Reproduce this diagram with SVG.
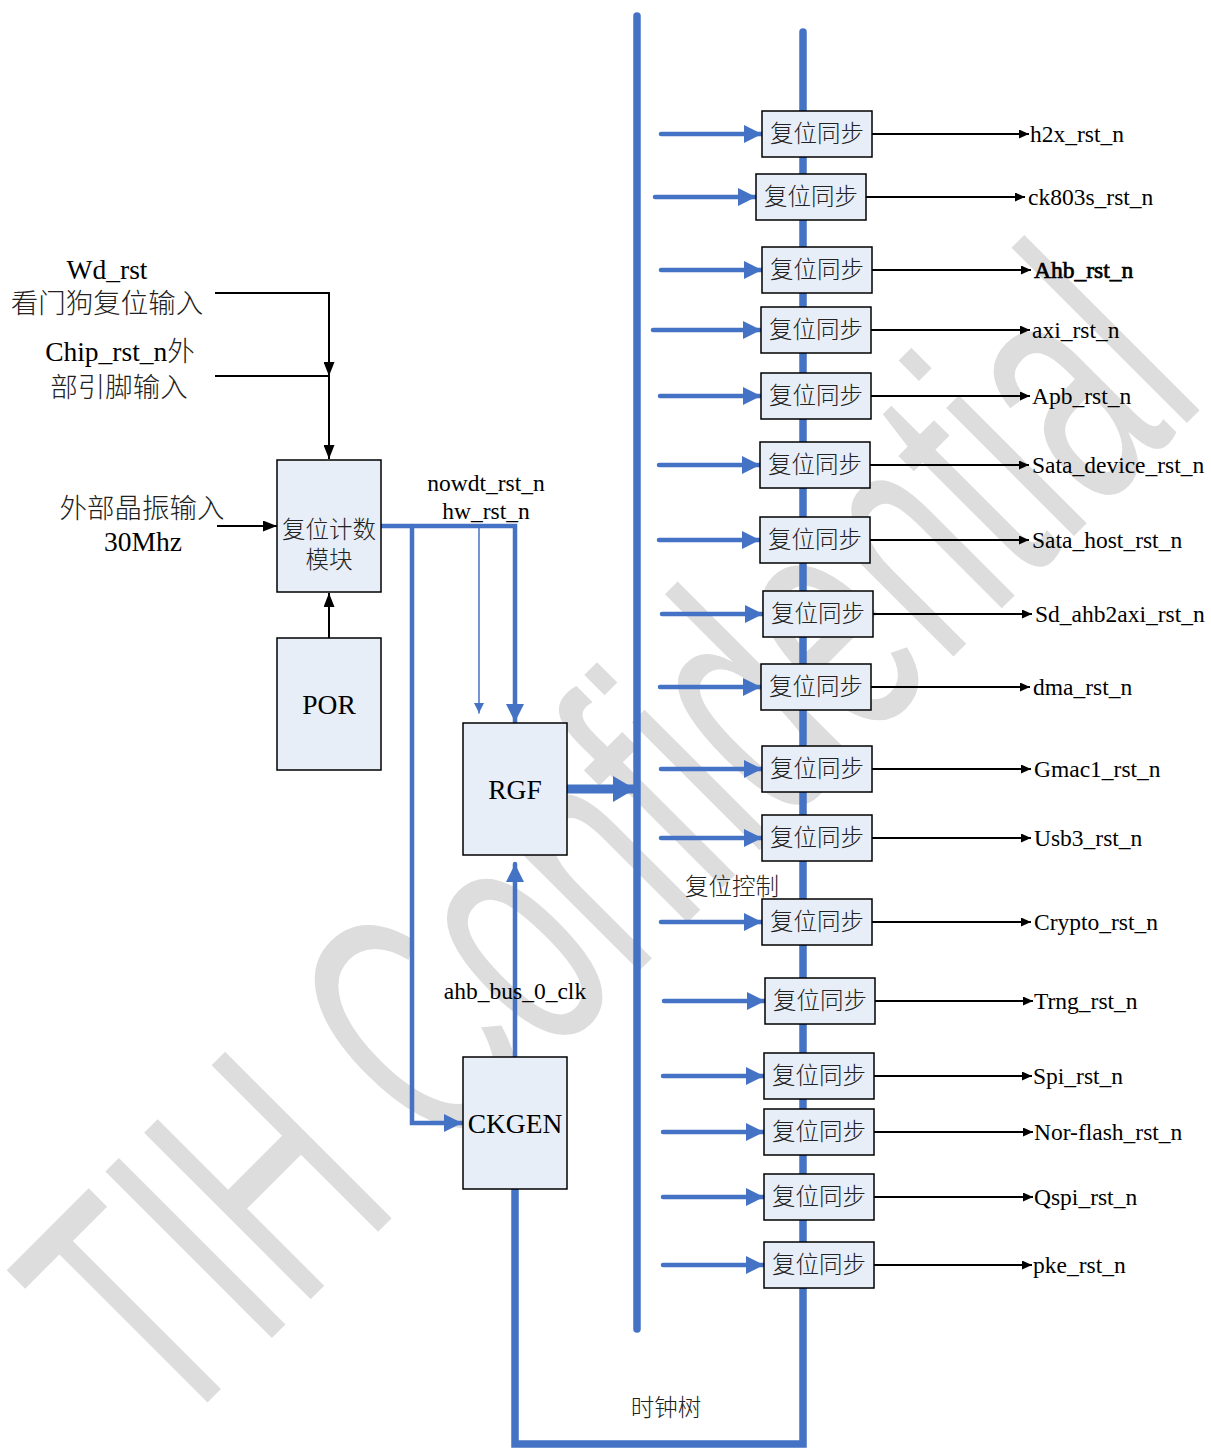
<svg xmlns="http://www.w3.org/2000/svg" width="1211" height="1448" viewBox="0 0 1211 1448">
<defs>
<style>
.t{font-family:"Liberation Serif","Noto Sans CJK SC",serif;fill:#000}
.s{font-size:23.5px}
.l{font-size:27.5px}
.c{text-anchor:middle}
.cj{fill:#222;font-weight:300}
.box{fill:#E7EEF8;stroke:#000;stroke-width:1.5}
.bl{fill:none;stroke:#4472C4;stroke-linecap:round}
.bk{fill:none;stroke:#000;stroke-width:2}
.wm{font-family:"Liberation Sans",Arial,sans-serif;font-size:205px;fill:#DDDDDD}
</style>
<marker id="ba" markerUnits="userSpaceOnUse" markerWidth="18" markerHeight="18" viewBox="0 0 18 18" refX="18" refY="9" orient="auto"><path d="M0,0L18,9L0,18z" fill="#4472C4"/></marker>
<marker id="bs" markerUnits="userSpaceOnUse" markerWidth="10" markerHeight="10" viewBox="0 0 10 10" refX="10" refY="5" orient="auto"><path d="M0,0L10,5L0,10z" fill="#4472C4"/></marker>
<marker id="bb" markerUnits="userSpaceOnUse" markerWidth="22" markerHeight="26" viewBox="0 0 22 26" refX="22" refY="13" orient="auto"><path d="M0,0L22,13L0,26z" fill="#4472C4"/></marker>
<marker id="ka" markerUnits="userSpaceOnUse" markerWidth="10" markerHeight="9" viewBox="0 0 10 9" refX="10" refY="4.5" orient="auto"><path d="M0,0L10,4.5L0,9z" fill="#000"/></marker>
<marker id="kb" markerUnits="userSpaceOnUse" markerWidth="14" markerHeight="11" viewBox="0 0 14 11" refX="14" refY="5.5" orient="auto"><path d="M0,0L14,5.5L0,11z" fill="#000"/></marker>
</defs>
<rect width="1211" height="1448" fill="#fff"/>
<text class="wm" transform="translate(170,1440) rotate(-45) scale(1,1.67)">TIH Confidential</text>

<g id="connectors">
<path class="bl" stroke-width="7.5" d="M637,16V1329"/>
<path class="bl" stroke-width="7.5" stroke-linejoin="miter" d="M803,32V1444H515V1190"/>
<path class="bk" d="M215,293H329V376" marker-end="url(#kb)"/>
<path class="bk" d="M215,376H329V459" marker-end="url(#kb)"/>
<path class="bk" d="M217,526H277" marker-end="url(#kb)"/>
<path class="bk" d="M329,638V593" marker-end="url(#kb)"/>
<path class="bl" stroke-width="4.5" d="M381,526H515V722" marker-end="url(#ba)"/>
<path class="bl" stroke-width="1.5" stroke-linecap="butt" d="M479,526V713" marker-end="url(#bs)"/>
<path class="bl" stroke-width="4.5" stroke-linejoin="miter" d="M412,526V1123H462" marker-end="url(#ba)"/>
<path class="bl" stroke-width="4.5" stroke-linecap="butt" d="M515,1057V864" marker-end="url(#ba)"/>
<path class="bl" stroke-width="9" d="M567,789H635" marker-end="url(#bb)"/>
<path class="bl" stroke-width="4.5" d="M661,134H762" marker-end="url(#ba)"/>
<path class="bl" stroke-width="4.5" d="M655,197H756" marker-end="url(#ba)"/>
<path class="bl" stroke-width="4.5" d="M661,270H762" marker-end="url(#ba)"/>
<path class="bl" stroke-width="4.5" d="M653,330H761" marker-end="url(#ba)"/>
<path class="bl" stroke-width="4.5" d="M660,396H761" marker-end="url(#ba)"/>
<path class="bl" stroke-width="4.5" d="M659,465H760" marker-end="url(#ba)"/>
<path class="bl" stroke-width="4.5" d="M659,540H760" marker-end="url(#ba)"/>
<path class="bl" stroke-width="4.5" d="M662,614H763" marker-end="url(#ba)"/>
<path class="bl" stroke-width="4.5" d="M660,687H761" marker-end="url(#ba)"/>
<path class="bl" stroke-width="4.5" d="M661,769H762" marker-end="url(#ba)"/>
<path class="bl" stroke-width="4.5" d="M661,838H762" marker-end="url(#ba)"/>
<path class="bl" stroke-width="4.5" d="M661,922H762" marker-end="url(#ba)"/>
<path class="bl" stroke-width="4.5" d="M664,1001H765" marker-end="url(#ba)"/>
<path class="bl" stroke-width="4.5" d="M663,1076H764" marker-end="url(#ba)"/>
<path class="bl" stroke-width="4.5" d="M663,1132H764" marker-end="url(#ba)"/>
<path class="bl" stroke-width="4.5" d="M663,1197H764" marker-end="url(#ba)"/>
<path class="bl" stroke-width="4.5" d="M663,1265H764" marker-end="url(#ba)"/>
<path class="bk" d="M872,134H1029" marker-end="url(#ka)"/>
<path class="bk" d="M866,197H1025" marker-end="url(#ka)"/>
<path class="bk" d="M872,270H1031" marker-end="url(#ka)"/>
<path class="bk" d="M871,330H1030" marker-end="url(#ka)"/>
<path class="bk" d="M871,396H1030" marker-end="url(#ka)"/>
<path class="bk" d="M870,465H1029" marker-end="url(#ka)"/>
<path class="bk" d="M870,540H1029" marker-end="url(#ka)"/>
<path class="bk" d="M873,614H1032" marker-end="url(#ka)"/>
<path class="bk" d="M871,687H1030" marker-end="url(#ka)"/>
<path class="bk" d="M872,769H1031" marker-end="url(#ka)"/>
<path class="bk" d="M872,838H1031" marker-end="url(#ka)"/>
<path class="bk" d="M872,922H1031" marker-end="url(#ka)"/>
<path class="bk" d="M875,1001H1033" marker-end="url(#ka)"/>
<path class="bk" d="M874,1076H1032" marker-end="url(#ka)"/>
<path class="bk" d="M874,1132H1033" marker-end="url(#ka)"/>
<path class="bk" d="M874,1197H1033" marker-end="url(#ka)"/>
<path class="bk" d="M874,1265H1032" marker-end="url(#ka)"/>
</g>

<g id="labels">
<text class="t l c" x="107" y="279">Wd_rst</text>
<text class="t l c cj" x="107" y="313">看门狗复位输入</text>
<text class="t l c" x="120" y="361">Chip_rst_n<tspan class="cj">外</tspan></text>
<text class="t l c cj" x="119" y="397">部引脚输入</text>
<text class="t l c cj" x="142" y="518">外部晶振输入</text>
<text class="t l c" x="143" y="551">30Mhz</text>
<text class="t s c" x="486" y="491">nowdt_rst_n</text>
<text class="t s c" x="486" y="519">hw_rst_n</text>
<text class="t s c" x="515" y="999">ahb_bus_0_clk</text>
<text class="t s cj" x="685" y="895">复位控制</text>
<text class="t s c cj" x="666" y="1416">时钟树</text>
</g>

<g id="reset-counter"><rect class="box" x="277" y="460" width="104" height="132"/><text class="t s c cj" x="329" y="538">复位计数</text><text class="t s c cj" x="329" y="568">模块</text></g>
<g id="por"><rect class="box" x="277" y="638" width="104" height="132"/><text class="t l c" x="329" y="714">POR</text></g>
<g id="rgf"><rect class="box" x="463" y="723" width="104" height="132"/><text class="t l c" x="515" y="799">RGF</text></g>
<g id="ckgen"><rect class="box" x="463" y="1057" width="104" height="132"/><text class="t l c" x="515" y="1133">CKGEN</text></g>

<g id="sync1"><rect class="box" x="762" y="111" width="110" height="46"/><text class="t s c cj" x="817" y="142">复位同步</text><text class="t s" x="1030" y="142">h2x_rst_n</text></g>
<g id="sync2"><rect class="box" x="756" y="174" width="110" height="46"/><text class="t s c cj" x="811" y="205">复位同步</text><text class="t s" x="1028" y="205">ck803s_rst_n</text></g>
<g id="sync3"><rect class="box" x="762" y="247" width="110" height="46"/><text class="t s c cj" x="817" y="278">复位同步</text><text class="t s" x="1034" y="278" stroke="#000" stroke-width="0.7">Ahb_rst_n</text></g>
<g id="sync4"><rect class="box" x="761" y="307" width="110" height="46"/><text class="t s c cj" x="816" y="338">复位同步</text><text class="t s" x="1032" y="338">axi_rst_n</text></g>
<g id="sync5"><rect class="box" x="761" y="373" width="110" height="46"/><text class="t s c cj" x="816" y="404">复位同步</text><text class="t s" x="1032" y="404">Apb_rst_n</text></g>
<g id="sync6"><rect class="box" x="760" y="442" width="110" height="46"/><text class="t s c cj" x="815" y="473">复位同步</text><text class="t s" x="1032" y="473">Sata_device_rst_n</text></g>
<g id="sync7"><rect class="box" x="760" y="517" width="110" height="46"/><text class="t s c cj" x="815" y="548">复位同步</text><text class="t s" x="1032" y="548">Sata_host_rst_n</text></g>
<g id="sync8"><rect class="box" x="763" y="591" width="110" height="46"/><text class="t s c cj" x="818" y="622">复位同步</text><text class="t s" x="1035" y="622">Sd_ahb2axi_rst_n</text></g>
<g id="sync9"><rect class="box" x="761" y="664" width="110" height="46"/><text class="t s c cj" x="816" y="695">复位同步</text><text class="t s" x="1033" y="695">dma_rst_n</text></g>
<g id="sync10"><rect class="box" x="762" y="746" width="110" height="46"/><text class="t s c cj" x="817" y="777">复位同步</text><text class="t s" x="1034" y="777">Gmac1_rst_n</text></g>
<g id="sync11"><rect class="box" x="762" y="815" width="110" height="46"/><text class="t s c cj" x="817" y="846">复位同步</text><text class="t s" x="1034" y="846">Usb3_rst_n</text></g>
<g id="sync12"><rect class="box" x="762" y="899" width="110" height="46"/><text class="t s c cj" x="817" y="930">复位同步</text><text class="t s" x="1034" y="930">Crypto_rst_n</text></g>
<g id="sync13"><rect class="box" x="765" y="978" width="110" height="46"/><text class="t s c cj" x="820" y="1009">复位同步</text><text class="t s" x="1034" y="1009">Trng_rst_n</text></g>
<g id="sync14"><rect class="box" x="764" y="1053" width="110" height="46"/><text class="t s c cj" x="819" y="1084">复位同步</text><text class="t s" x="1033" y="1084">Spi_rst_n</text></g>
<g id="sync15"><rect class="box" x="764" y="1109" width="110" height="46"/><text class="t s c cj" x="819" y="1140">复位同步</text><text class="t s" x="1034" y="1140">Nor-flash_rst_n</text></g>
<g id="sync16"><rect class="box" x="764" y="1174" width="110" height="46"/><text class="t s c cj" x="819" y="1205">复位同步</text><text class="t s" x="1034" y="1205">Qspi_rst_n</text></g>
<g id="sync17"><rect class="box" x="764" y="1242" width="110" height="46"/><text class="t s c cj" x="819" y="1273">复位同步</text><text class="t s" x="1033" y="1273">pke_rst_n</text></g>
</svg>
